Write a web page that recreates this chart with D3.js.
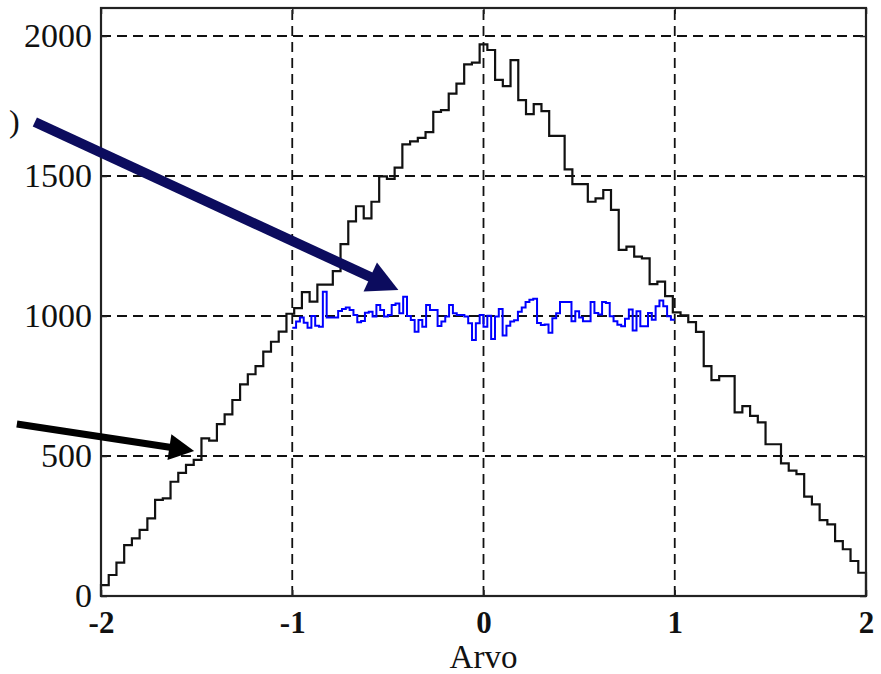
<!DOCTYPE html>
<html>
<head>
<meta charset="utf-8">
<script src="https://cdn.jsdelivr.net/npm/d3@7/dist/d3.min.js"></script>
<style>
  html, body { margin: 0; padding: 0; background: #fff; }
  svg { display: block; }
  text { font-family: "Liberation Serif", "Times New Roman", serif; fill: #111; }
</style>
</head>
<body>
<svg id="chart" width="881" height="674"></svg>
<script>
// Histogram of the sum of two uniform variables (triangular shape), 99 bins on [-2, 2]
const triangularRange = [-2, 2];
const triangularCounts = [
  39, 75, 119, 182, 206, 236, 277, 343, 349, 408,
  440, 468, 486, 563, 555, 614, 649, 700, 756, 792,
  821, 873, 908, 944, 1008, 1028, 1085, 1051, 1112, 1112,
  1160, 1257, 1338, 1392, 1349, 1408, 1499, 1490, 1530, 1613,
  1624, 1636, 1657, 1729, 1735, 1794, 1830, 1899, 1905, 1970,
  1950, 1843, 1821, 1914, 1771, 1721, 1757, 1732, 1643, 1643,
  1524, 1471, 1471, 1408, 1420, 1450, 1379, 1236, 1248, 1212,
  1206, 1114, 1123, 1071, 1013, 1002, 978, 943, 821, 771,
  785, 785, 656, 678, 643, 620, 542, 542, 474, 448,
  435, 355, 327, 271, 256, 196, 167, 125, 83
];

// Histogram of a single uniform variable, 100 bins on [-1, 1]
const uniformRange = [-1, 1];
const uniformCounts = [
  958, 980, 995, 976, 958, 1000, 965, 962, 1087, 995,
  995, 995, 1018, 1025, 1030, 1021, 1004, 978, 982, 1012,
  1015, 998, 1039, 1021, 998, 1004, 1039, 1045, 1010, 1069,
  1000, 986, 944, 986, 962, 1039, 1021, 1021, 964, 980,
  998, 1039, 1010, 1004, 1004, 998, 974, 914, 974, 1004,
  962, 1001, 918, 998, 1025, 930, 965, 980, 985, 1015,
  1030, 1050, 1058, 1062, 975, 968, 970, 940, 992, 1010,
  1050, 1050, 1050, 981, 1017, 995, 981, 981, 1050, 1011,
  1005, 1050, 1046, 999, 981, 969, 963, 990, 1023, 948,
  1017, 963, 963, 1011, 987, 1035, 1055, 1035, 999, 987
];

const xTicks = [-2, -1, 0, 1, 2];
const yTicks = [0, 500, 1000, 1500, 2000];
const xGrid = [-1, 0, 1];
const yGrid = [500, 1000, 1500, 2000];
const xLabel = "Arvo";

// Annotation arrows, given in data units: [tail, tip]
const arrowUniform = [[-2.346, 1693], [-0.445, 1093]];
const arrowTriangular = [[-2.44, 614], [-1.513, 518]];

const svg = d3.select("#chart");
const plot = { left: 101, right: 866, top: 8, bottom: 596 };

const x = d3.scaleLinear().domain([-2, 2]).range([plot.left, plot.right]);
const y = d3.scaleLinear().domain([0, 2100]).range([plot.bottom, plot.top]);

// dashed grid
const grid = svg.append("g").attr("stroke", "#111").attr("stroke-width", 1.8)
  .attr("stroke-dasharray", "10,6").attr("fill", "none");
grid.selectAll("line.gx").data(xGrid).join("line").attr("class", "gx")
  .attr("x1", d => x(d)).attr("x2", d => x(d))
  .attr("y1", plot.bottom).attr("y2", plot.top);
grid.selectAll("line.gy").data(yGrid).join("line").attr("class", "gy")
  .attr("x1", plot.left).attr("x2", plot.right)
  .attr("y1", d => y(d)).attr("y2", d => y(d));

// build step outline of a histogram
function stairs(counts, range, closeToZero) {
  const [lo, hi] = range;
  const w = (hi - lo) / counts.length;
  const pts = counts.map((c, i) => [lo + i * w, c]);
  pts.push([hi, counts[counts.length - 1]]);
  if (closeToZero) {
    pts.unshift([lo, 0]);
    pts.push([hi, 0]);
  }
  return pts;
}
const stepLine = d3.line().x(d => x(d[0])).y(d => y(d[1])).curve(d3.curveStepAfter);

svg.append("path")
  .attr("d", stepLine(stairs(triangularCounts, triangularRange, true)))
  .attr("fill", "none").attr("stroke", "#111").attr("stroke-width", 2.2);

svg.append("path")
  .attr("d", stepLine(stairs(uniformCounts, uniformRange, false)))
  .attr("fill", "none").attr("stroke", "#0000ff").attr("stroke-width", 2);

// frame
svg.append("rect")
  .attr("x", plot.left).attr("y", plot.top)
  .attr("width", plot.right - plot.left).attr("height", plot.bottom - plot.top)
  .attr("fill", "none").attr("stroke", "#222").attr("stroke-width", 2.2);

// axes with inward ticks
const xAxis = svg.append("g").attr("transform", `translate(0,${plot.bottom})`)
  .call(d3.axisBottom(x).tickValues(xTicks).tickSize(-6).tickPadding(15)
    .tickFormat(d => (d < 0 ? "-" : "") + Math.abs(d)));
xAxis.select(".domain").remove();
xAxis.selectAll("line").attr("stroke", "#222").attr("stroke-width", 1.5);
xAxis.selectAll("text").attr("font-size", 31).attr("font-weight", "bold")
  .attr("font-family", "Liberation Serif").attr("fill", "#111");

const xTop = svg.append("g").attr("transform", `translate(0,${plot.top})`)
  .call(d3.axisTop(x).tickValues(xTicks).tickSize(-6).tickFormat(""));
xTop.select(".domain").remove();
xTop.selectAll("line").attr("stroke", "#222").attr("stroke-width", 1.5);

const yAxis = svg.append("g").attr("transform", `translate(${plot.left},0)`)
  .call(d3.axisLeft(y).tickValues(yTicks).tickSize(-6).tickPadding(9)
    .tickFormat(d3.format("d")));
yAxis.select(".domain").remove();
yAxis.selectAll("line").attr("stroke", "#222").attr("stroke-width", 1.5);
yAxis.selectAll("text").attr("font-size", 34)
  .attr("font-family", "Liberation Serif").attr("fill", "#111");

const yRight = svg.append("g").attr("transform", `translate(${plot.right},0)`)
  .call(d3.axisRight(y).tickValues(yTicks).tickSize(-6).tickFormat(""));
yRight.select(".domain").remove();
yRight.selectAll("line").attr("stroke", "#222").attr("stroke-width", 1.5);

// x label
svg.append("text")
  .attr("x", x(0)).attr("y", 668)
  .attr("text-anchor", "middle").attr("font-size", 33)
  .text(xLabel);

// arrows
function arrow(pair, color, width, headLen, headHalf) {
  const [t0, t1] = pair;
  const p0 = [x(t0[0]), y(t0[1])], p1 = [x(t1[0]), y(t1[1])];
  const dx = p1[0] - p0[0], dy = p1[1] - p0[1];
  const L = Math.hypot(dx, dy);
  const ux = dx / L, uy = dy / L, nx = -uy, ny = ux;
  const bx = p1[0] - ux * headLen, by = p1[1] - uy * headLen;
  svg.append("line")
    .attr("x1", p0[0]).attr("y1", p0[1])
    .attr("x2", bx + ux * 2).attr("y2", by + uy * 2)
    .attr("stroke", color).attr("stroke-width", width);
  svg.append("polygon")
    .attr("points", [[p1[0], p1[1]], [bx + nx * headHalf, by + ny * headHalf], [bx - nx * headHalf, by - ny * headHalf]]
      .map(p => p.join(",")).join(" "))
    .attr("fill", color);
}
arrow(arrowUniform, "#0c0c5e", 10, 31, 16);
arrow(arrowTriangular, "#000", 7, 25, 13);

// partially visible glyph at the left edge
svg.append("text")
  .attr("x", 9).attr("y", 132).attr("font-size", 32).attr("fill", "#333")
  .text(")");
</script>
</body>
</html>
